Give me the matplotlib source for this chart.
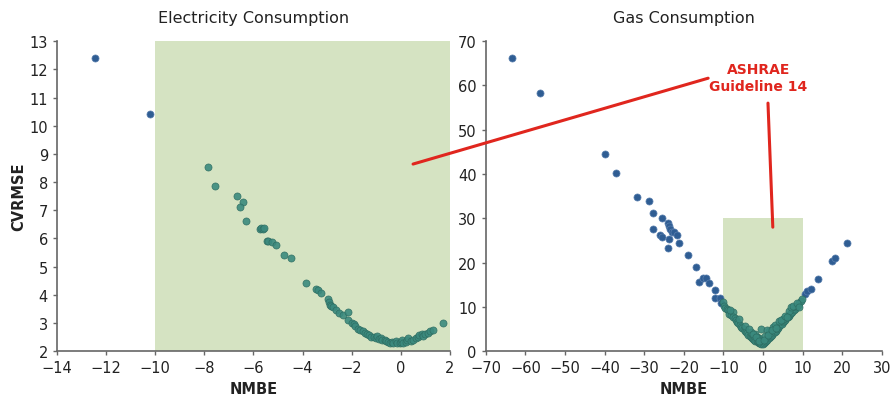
import numpy as np
import matplotlib.pyplot as plt
from matplotlib.patches import Rectangle, ConnectionPatch

# electricity: NMBE vs CVRMSE
elec_x = [-12.45, -10.2, -7.84, -7.55, -6.68, -6.43, -6.54, -6.32, -5.75, -5.68, -5.62, -5.58,
          -5.46, -5.4, -5.26, -5.08, -4.74, -4.47, -3.86, -3.45, -3.38, -3.25, -2.95, -2.93,
          -2.9, -2.85, -2.78, -2.64, -2.5, -2.35, -2.15, -2.14, -2.0, -1.92, -1.85, -1.75,
          -1.65, -1.55, -1.45, -1.38, -1.3, -1.2, -1.1, -1.0, -0.95, -0.9, -0.8, -0.75, -0.65,
          -0.6, -0.5, -0.45, -0.35, -0.3, -0.2, -0.15, -0.05, 0.0, 0.05, 0.1, 0.2, 0.25, 0.3,
          0.4, 0.5, 0.6, 0.7, 0.75, 0.85, 0.9, 1.0, 1.1, 1.2, 1.3, 1.7]
elec_y = [12.4, 10.4, 8.52, 7.85, 7.5, 7.29, 7.11, 6.62, 6.35, 6.38, 6.33, 6.36,
          5.91, 5.9, 5.88, 5.78, 5.43, 5.29, 4.41, 4.2, 4.16, 4.08, 3.85, 3.75,
          3.65, 3.6, 3.55, 3.45, 3.35, 3.27, 3.4, 3.12, 3.0, 2.95, 2.88, 2.8,
          2.75, 2.7, 2.66, 2.62, 2.58, 2.52, 2.5, 2.46, 2.53, 2.42, 2.45, 2.38, 2.4,
          2.35, 2.33, 2.3, 2.32, 2.28, 2.35, 2.3, 2.28, 2.34, 2.38, 2.3, 2.33, 2.4, 2.45,
          2.35, 2.4, 2.45, 2.5, 2.58, 2.62, 2.55, 2.6, 2.65, 2.7, 2.75, 3.0]

# gas: NMBE vs CVRMSE
gas_x = [-63.3, -56.4, -39.8, -37.1, -31.9, -28.8, -27.8, -25.6, -27.8, -26.1, -25.6,
         -24.0, -23.7, -23.5, -23.1, -22.5, -21.8, -23.7, -23.9, -21.3, -19.0, -17.0,
         -16.1, -15.1, -14.5, -13.6, -12.1, -12.2, -10.9, -10.7,
         10.6, 11.0, 12.0, 13.8, 17.5, 18.1, 21.1,
         -10.0, -9.8, -9.5, -9.2, -8.8, -8.5, -8.0, -7.5, -7.6, -7.2, -6.9, -6.5, -6.2,
         -5.8, -5.5, -5.2, -4.9, -4.6, -4.3, -4.0, -3.7, -3.4, -3.1, -2.8, -2.5, -2.2,
         -1.9, -1.6, -1.3, -1.0, -0.7, -0.4, -0.1, -0.5, -1.0, -0.6, -1.5, -2.0, -3.0,
         0.2, 0.5, 0.8, 1.1, 1.4, 1.7, 2.0, 2.3, 2.6, 2.9, 3.2, 3.5, 3.8, 4.1, 4.4, 4.7,
         5.0, 5.3, 5.6, 5.9, 6.2, 6.5, 6.8, 7.1, 7.4, 7.7, 8.0, 8.3, 8.6, 8.9, 9.2, 9.5,
         9.8, 1.5, 2.5, 3.0, 4.0, 5.0, 6.5, 7.0, 7.5, 1.0, 0.5, 4.5,
         -8.3, -6.0, -4.5, -3.5, -2.6, -1.8, -0.9, 0.3, 1.2, 2.2, 3.4, 5.5, 6.0, 8.5, 9.0]
gas_y = [66.1, 58.3, 44.5, 40.2, 34.8, 33.9, 31.2, 30.0, 27.5, 26.3, 25.7,
         29.0, 28.3, 27.5, 27.0, 26.8, 26.2, 25.3, 23.4, 24.5, 21.7, 19.1,
         15.7, 16.6, 16.6, 15.3, 13.9, 11.9, 12.0, 10.8,
         13.0, 13.5, 14.0, 16.3, 20.4, 21.1, 24.5,
         11.0, 10.2, 9.8, 9.5, 9.2, 8.5, 8.2, 8.8, 7.8, 7.5, 7.0, 6.6, 6.3,
         5.9, 5.5, 5.2, 4.9, 4.6, 4.3, 4.0, 3.7, 3.5, 3.2, 3.0, 2.8, 2.6,
         2.4, 2.2, 2.0, 1.9, 1.8, 1.7, 1.7, 2.5, 3.0, 5.0, 3.3, 3.8, 4.3,
         1.8, 2.0, 2.3, 2.6, 2.9, 3.1, 3.4, 3.7, 4.0, 4.3, 4.6, 5.0, 5.3, 5.6, 5.9, 6.2,
         6.5, 6.8, 7.1, 7.4, 7.7, 8.0, 8.3, 8.6, 8.9, 9.2, 9.6, 9.9, 10.2, 10.5, 10.9, 11.3,
         11.7, 4.5, 5.5, 6.0, 6.8, 7.3, 9.0, 10.0, 10.2, 4.8, 3.5, 7.0,
         9.4, 7.2, 5.6, 4.9, 3.9, 3.1, 2.4, 2.6, 3.6, 4.8, 5.2, 8.0, 7.8, 10.8, 10.0]

# ASHRAE Guideline 14 limits
elec_box = (-10, 2, 2, 13)   # nmbe lo, hi, cvrmse lo, hi
gas_box = (-10, 10, 0, 30)

GREEN = '#d5e3c2'
BLUE = '#2f5d93'
TEAL = '#3b8a7e'
RED = '#e0261e'

fig = plt.figure(figsize=(8.93, 4.02), dpi=100)
ax1 = fig.add_axes([0.0638, 0.124, 0.440, 0.771])
ax2 = fig.add_axes([0.544, 0.124, 0.4435, 0.771])


def panel(ax, xs, ys, box, xlim, ylim, xticks, yticks, title):
    xs = np.array(xs)
    ys = np.array(ys)
    ax.add_patch(Rectangle((box[0], box[2]), box[1] - box[0], box[3] - box[2],
                           facecolor=GREEN, edgecolor='none', zorder=0))
    inside = (xs >= box[0]) & (xs <= box[1]) & (ys <= box[3])
    ax.scatter(xs[~inside], ys[~inside], s=26, color=BLUE, edgecolor='#5a7fae',
               linewidth=0.5, zorder=3)
    ax.scatter(xs[inside], ys[inside], s=26, color=TEAL, edgecolor='#2c6b60',
               linewidth=0.5, alpha=0.9, zorder=3)
    ax.set_xlim(xlim)
    ax.set_ylim(ylim)
    ax.set_xticks(xticks)
    ax.set_yticks(yticks)
    ax.set_xticklabels([str(t).replace('-', '\u2212') for t in xticks])
    for s in ['top', 'right']:
        ax.spines[s].set_visible(False)
    for s in ['left', 'bottom']:
        ax.spines[s].set_color('#666666')
        ax.spines[s].set_linewidth(1.2)
    ax.tick_params(colors='#666666', labelcolor='#222222', labelsize=10.5,
                   length=3, width=1)
    ax.set_title(title, fontsize=11.5, color='#222222', pad=14)
    ax.set_xlabel('NMBE', fontsize=10.5, fontweight='bold', color='#222222',
                  labelpad=4)


panel(ax1, elec_x, elec_y, elec_box, (-14, 2), (2, 13),
      list(range(-14, 3, 2)), list(range(2, 14)), 'Electricity Consumption')
panel(ax2, gas_x, gas_y, gas_box, (-70, 30), (0, 70),
      list(range(-70, 31, 10)), list(range(0, 71, 10)), 'Gas Consumption')
ax1.set_ylabel('CVRMSE', fontsize=10.5, fontweight='bold', color='#222222',
               labelpad=2)

# annotation
tx, ty = 0.849, 0.805
fig.text(tx, ty, 'ASHRAE\nGuideline 14', color=RED, fontsize=10,
         fontweight='bold', ha='center', va='center', linespacing=1.3)
c1 = ConnectionPatch(xyA=(0.793, 0.803), coordsA=fig.transFigure,
                     xyB=(0.5, 8.64), coordsB=ax1.transData,
                     color=RED, linewidth=2.2, zorder=10)
c2 = ConnectionPatch(xyA=(0.860, 0.741), coordsA=fig.transFigure,
                     xyB=(2.47, 28.0), coordsB=ax2.transData,
                     color=RED, linewidth=2.2, zorder=10)
fig.add_artist(c1)
fig.add_artist(c2)

fig.savefig('out.png', dpi=100)
